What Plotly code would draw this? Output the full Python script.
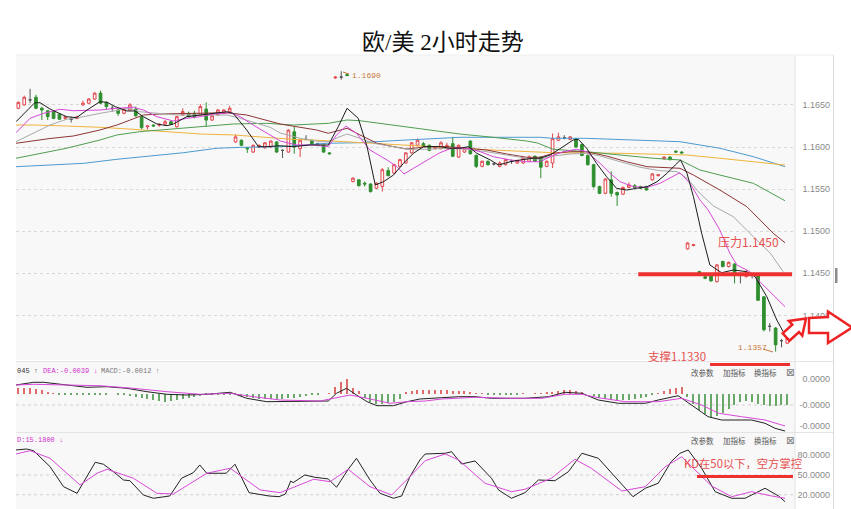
import plotly.graph_objects as go

W, H = 851, 509

# ---------------- candle data (index 0..131) ----------------
opens = [1.1646,1.1650,1.1656,1.1659,1.1646,1.1643,1.1642,1.1639,1.1634,1.1633,1.1634,1.1650,1.1652,1.1657,1.1664,1.1653,1.1646,1.1644,1.1640,1.1644,
         1.1645,1.1636,1.1624,1.1626,1.1626,1.1627,1.1630,1.1624,1.1638,1.1640,1.1640,1.1638,1.1645,1.1632,1.1638,1.1640,1.1642,1.1606,1.1608,1.1599,
         1.1594,1.1600,1.1599,1.1600,1.1606,1.1596,1.1594,1.1618,1.1598,1.1609,1.1608,1.1604,1.1602,1.1593,1.1682,1.1683,1.1686,1.1559,1.1561,1.1557,
         1.1556,1.1551,1.1553,1.1572,1.1569,1.1577,1.1581,1.1593,1.1602,1.1604,1.1602,1.1598,1.1598,1.1598,1.1604,1.1588,1.1594,1.1607,1.1590,1.1577,
         1.1583,1.1580,1.1577,1.1579,1.1583,1.1581,1.1581,1.1583,1.1589,1.1588,1.1577,1.1581,1.1608,1.1611,1.1609,1.1610,1.1603,1.1590,1.1579,1.1553,
         1.1545,1.1561,1.1546,1.1544,1.1552,1.1554,1.1553,1.1553,1.1561,1.1566,1.1586,1.1588,1.1595,1.1594,1.1479,1.1483,1.1452,1.1446,1.1447,1.1440,
         1.1464,1.1458,1.1461,1.1449,1.1446,1.1448,1.1447,1.1422,1.1387,1.1385,1.1370,1.1367]
highs = [1.1654,1.1661,1.1669,1.1662,1.1648,1.1644,1.1643,1.1640,1.1637,1.1636,1.1637,1.1655,1.1658,1.1665,1.1667,1.1654,1.1649,1.1645,1.1646,1.1652,
         1.1648,1.1638,1.1626,1.1627,1.1628,1.1632,1.1631,1.1637,1.1646,1.1642,1.1643,1.1651,1.1653,1.1638,1.1645,1.1645,1.1649,1.1615,1.1609,1.1600,
         1.1603,1.1603,1.1606,1.1608,1.1607,1.1597,1.1621,1.1624,1.1609,1.1614,1.1609,1.1605,1.1603,1.1594,1.1684,1.1690,1.1687,1.1564,1.1562,1.1559,
         1.1557,1.1558,1.1575,1.1576,1.1580,1.1586,1.1594,1.1606,1.1610,1.1606,1.1603,1.1601,1.1607,1.1605,1.1612,1.1603,1.1599,1.1608,1.1591,1.1584,
         1.1584,1.1581,1.1583,1.1586,1.1585,1.1585,1.1588,1.1590,1.1590,1.1589,1.1584,1.1616,1.1617,1.1614,1.1613,1.1611,1.1604,1.1591,1.1580,1.1554,
         1.1563,1.1571,1.1547,1.1553,1.1558,1.1556,1.1554,1.1554,1.1569,1.1568,1.1589,1.1589,1.1596,1.1595,1.1487,1.1485,1.1453,1.1447,1.1448,1.1461,
         1.1465,1.1464,1.1462,1.1451,1.1454,1.1450,1.1448,1.1423,1.1391,1.1386,1.1372,1.1374]
lows = [1.1645,1.1649,1.1652,1.1645,1.1632,1.1632,1.1633,1.1632,1.1632,1.1629,1.1633,1.1649,1.1651,1.1656,1.1651,1.1645,1.1642,1.1637,1.1639,1.1643,
        1.1636,1.1621,1.1621,1.1624,1.1624,1.1626,1.1626,1.1623,1.1637,1.1635,1.1634,1.1637,1.1624,1.1631,1.1637,1.1639,1.1641,1.1605,1.1601,1.1593,
        1.1593,1.1599,1.1598,1.1599,1.1593,1.1587,1.1593,1.1592,1.1588,1.1608,1.1603,1.1603,1.1593,1.1591,1.1681,1.1680,1.1684,1.1558,1.1553,1.1553,
        1.1546,1.1550,1.1547,1.1565,1.1568,1.1576,1.1580,1.1592,1.1601,1.1600,1.1595,1.1597,1.1597,1.1597,1.1588,1.1587,1.1593,1.1591,1.1575,1.1576,
        1.1578,1.1578,1.1576,1.1578,1.1580,1.1580,1.1580,1.1582,1.1582,1.1563,1.1576,1.1575,1.1607,1.1609,1.1608,1.1599,1.1589,1.1578,1.1551,1.1544,
        1.1544,1.1541,1.1530,1.1543,1.1551,1.1551,1.1550,1.1548,1.1560,1.1565,1.1585,1.1584,1.1593,1.1592,1.1478,1.1482,1.1448,1.1443,1.1440,1.1439,
        1.1457,1.1457,1.1438,1.1438,1.1445,1.1444,1.1417,1.1381,1.1381,1.1357,1.1362,1.1366]
closes = [1.1653,1.1659,1.1656,1.1646,1.1644,1.1636,1.1634,1.1633,1.1636,1.1633,1.1636,1.1652,1.1657,1.1664,1.1652,1.1648,1.1646,1.1640,1.1645,1.1650,
          1.1637,1.1623,1.1625,1.1625,1.1627,1.1630,1.1627,1.1636,1.1642,1.1636,1.1636,1.1648,1.1632,1.1637,1.1644,1.1644,1.1646,1.1612,1.1602,1.1598,
          1.1602,1.1602,1.1605,1.1607,1.1594,1.1596,1.1620,1.1600,1.1608,1.1609,1.1604,1.1604,1.1594,1.1592,1.1683,1.1683,1.1685,1.1563,1.1554,1.1556,
          1.1547,1.1557,1.1573,1.1566,1.1579,1.1585,1.1593,1.1605,1.1608,1.1601,1.1596,1.1600,1.1605,1.1602,1.1589,1.1602,1.1598,1.1592,1.1577,1.1583,
          1.1579,1.1580,1.1581,1.1585,1.1583,1.1584,1.1587,1.1588,1.1583,1.1576,1.1583,1.1610,1.1612,1.1611,1.1612,1.1600,1.1590,1.1579,1.1553,1.1545,
          1.1562,1.1545,1.1543,1.1552,1.1555,1.1552,1.1551,1.1549,1.1568,1.1567,1.1588,1.1585,1.1594,1.1593,1.1486,1.1484,1.1449,1.1444,1.1441,1.1460,
          1.1458,1.1463,1.1449,1.1449,1.1451,1.1448,1.1418,1.1383,1.1387,1.1365,1.1370,1.1373]

# ---------------- moving averages (bar index, price) ----------------
ma5_x = [-0.4,2.8,3.7,5.4,8.2,9.9,11.7,13.9,15.1,16.5,18.5,19.9,21.3,23.6,25.3,26.4,28.7,31.0,32.1,33.8,35.5,36.6,38.9,40.9,42.3,44.6,46.8,49.7,52.8,54.5,56.0,57.9,59.4,60.8,62.2,63.9,65.6,67.3,69.0,71.8,73.5,75.2,76.7,78.1,80.4,81.8,83.8,85.5,87.7,88.9,90.6,92.8,94.5,95.4,96.8,98.5,100.2,101.9,103.6,105.3,107.1,108.8,110.5,111.9,112.8,113.9,115.0,116.4,117.8,119.8,121.8,124.1,125.5,127.5,129.2,130.3]
ma5_y = [1.16300,1.16526,1.16526,1.16451,1.16360,1.16348,1.16439,1.16538,1.16531,1.16479,1.16428,1.16428,1.16360,1.16273,1.16253,1.16273,1.16360,1.16380,1.16392,1.16400,1.16419,1.16400,1.16202,1.16004,1.16004,1.16015,1.16004,1.16024,1.16024,1.16241,1.16460,1.16341,1.16004,1.15549,1.15588,1.15667,1.15806,1.15925,1.16004,1.16004,1.15985,1.15985,1.16004,1.15925,1.15846,1.15786,1.15825,1.15846,1.15866,1.15866,1.15905,1.16004,1.16083,1.16091,1.15985,1.15806,1.15647,1.15509,1.15489,1.15509,1.15528,1.15588,1.15688,1.15786,1.15846,1.15688,1.15410,1.14975,1.14599,1.14507,1.14539,1.14519,1.14460,1.14222,1.13945,1.13806]

ma10_x = [-0.4,2.0,4.3,7.1,9.4,11.7,13.9,16.8,19.6,21.3,23.6,26.4,28.7,31.0,33.2,36.1,37.8,40.0,42.3,44.6,47.4,50.2,52.8,54.2,55.8,57.6,59.9,62.8,64.5,65.7,67.3,69.6,71.8,73.8,76.4,78.7,80.9,83.8,86.6,88.9,90.6,92.8,95.1,96.8,99.1,100.8,102.5,104.8,107.1,109.3,111.3,112.7,114.4,116.1,117.5,119.5,121.2,122.4,124.6,126.9,128.6,130.6]
ma10_y = [1.16170,1.16341,1.16400,1.16448,1.16431,1.16431,1.16439,1.16460,1.16472,1.16439,1.16360,1.16309,1.16341,1.16360,1.16392,1.16407,1.16360,1.16261,1.16163,1.16071,1.16024,1.16024,1.16004,1.16143,1.16249,1.16163,1.15964,1.15846,1.15766,1.15679,1.15747,1.15846,1.15932,1.15985,1.15985,1.15944,1.15885,1.15846,1.15825,1.15825,1.15885,1.15944,1.15973,1.15944,1.15806,1.15688,1.15588,1.15528,1.15521,1.15569,1.15647,1.15695,1.15569,1.15371,1.15252,1.15014,1.14738,1.14599,1.14519,1.14361,1.14242,1.14103]

ma20_x = [-0.4,2.6,5.4,8.2,11.1,13.9,16.8,19.0,20.7,23.6,27.0,31.0,35.5,37.8,41.2,42.9,44.6,48.0,51.4,52.8,54.5,56.0,58.2,60.5,63.9,66.2,69.6,73.0,76.4,79.8,83.2,86.6,88.9,91.1,94.0,96.8,99.1,102.5,105.9,109.3,112.2,113.9,116.1,118.4,121.8,125.2,128.1,130.3]
ma20_y = [1.16063,1.16163,1.16261,1.16329,1.16360,1.16400,1.16439,1.16460,1.16419,1.16400,1.16380,1.16380,1.16380,1.16341,1.16273,1.16234,1.16166,1.16103,1.16063,1.16063,1.16115,1.16154,1.16103,1.16044,1.16004,1.15973,1.15973,1.15985,1.15973,1.15944,1.15905,1.15866,1.15854,1.15893,1.15917,1.15925,1.15893,1.15825,1.15759,1.15719,1.15707,1.15628,1.15450,1.15300,1.15172,1.14935,1.14738,1.14519]

ma30_x = [-0.4,2.6,5.4,9.4,11.7,13.9,16.8,19.6,21.3,24.1,31.0,35.5,38.9,42.3,44.6,48.0,50.8,52.8,54.8,56.0,58.2,61.1,63.9,66.2,69.6,73.0,76.4,79.8,83.2,86.6,88.9,91.1,94.0,96.8,100.2,103.6,107.1,110.5,112.7,115.0,119.5,124.1,126.3,128.6,130.6]
ma30_y = [1.16044,1.16075,1.16101,1.16131,1.16163,1.16202,1.16261,1.16341,1.16380,1.16392,1.16400,1.16407,1.16380,1.16321,1.16273,1.16234,1.16202,1.16163,1.16202,1.16222,1.16143,1.16044,1.16004,1.15976,1.16004,1.16004,1.15985,1.15964,1.15917,1.15878,1.15878,1.15925,1.15944,1.15944,1.15893,1.15825,1.15766,1.15759,1.15747,1.15667,1.15489,1.15291,1.15133,1.14975,1.14863]

ma60_x = [-0.4,2.6,8.2,13.9,16.8,20.7,25.3,31.0,36.6,42.3,46.8,52.8,56.0,58.2,63.9,69.6,75.2,80.9,86.6,88.4,91.1,96.8,102.5,108.2,112.7,116.1,119.5,125.2,130.6]
ma60_y = [1.15866,1.15905,1.15985,1.16083,1.16143,1.16182,1.16210,1.16241,1.16273,1.16281,1.16261,1.16281,1.16321,1.16312,1.16261,1.16202,1.16154,1.16115,1.16071,1.16048,1.15973,1.15944,1.15905,1.15866,1.15846,1.15727,1.15667,1.15569,1.15362]

ma120_x = [-0.4,2.6,8.2,13.9,19.6,25.3,31.0,36.6,42.3,46.8,52.5,58.2,63.9,69.6,75.2,80.9,86.6,91.1,102.5,108.2,113.9,119.5,125.2,130.6]
ma120_y = [1.16261,1.16261,1.16249,1.16234,1.16210,1.16182,1.16154,1.16143,1.16115,1.16091,1.16075,1.16051,1.16024,1.16004,1.15985,1.15964,1.15944,1.15932,1.15925,1.15917,1.15905,1.15866,1.15825,1.15786]

ma250_x = [-0.4,5.4,11.1,16.8,22.4,28.1,33.8,37.8,44.6,46.8,52.5,58.2,63.9,69.6,75.2,88.9,91.1,96.8,102.5,108.2,112.7,119.5,125.2,130.6]
ma250_y = [1.15766,1.15786,1.15806,1.15854,1.15893,1.15932,1.15985,1.15996,1.16004,1.16012,1.16044,1.16051,1.16075,1.16091,1.16115,1.16115,1.16103,1.16103,1.16091,1.16075,1.16063,1.15985,1.15885,1.15766]

# ---------------- MACD ----------------
dif_x = [-0.4,2.6,4.3,8.2,11.7,15.1,18.5,21.9,25.3,28.7,32.1,36.1,38.9,42.3,45.7,48.0,52.8,54.2,55.9,57.6,59.4,61.1,63.9,66.2,68.4,72.1,75.0,77.8,80.6,86.3,90.3,93.1,96.0,98.8,102.2,106.8,109.0,112.4,114.7,117.5,119.8,124.9,127.2,128.9,130.6]
dif_y = [0.00087,0.00114,0.00114,0.00087,0.00064,0.00070,0.00054,0.00020,-0.00006,-0.00013,-0.00006,0.00014,-0.00046,-0.00080,-0.00080,-0.00073,-0.00073,0.00004,0.00054,-0.00013,-0.00080,-0.00120,-0.00120,-0.00080,-0.00053,-0.00040,-0.00030,-0.00030,-0.00046,-0.00046,-0.00030,0.00014,0.00004,-0.00063,-0.00096,-0.00096,-0.00063,-0.00020,-0.00113,-0.00230,-0.00263,-0.00263,-0.00296,-0.00346,-0.00373]
dea_x = [-0.4,2.6,8.2,13.9,19.6,25.3,31.0,36.1,40.0,44.6,51.4,54.2,56.5,59.4,63.3,66.2,69.3,72.1,77.8,83.5,89.2,93.1,96.0,98.8,103.4,109.0,113.0,116.4,119.3,123.2,127.2,130.6]
dea_y = [0.00087,0.00094,0.00087,0.00080,0.00054,0.00020,-0.00006,0.00004,-0.00030,-0.00063,-0.00073,-0.00040,-0.00013,-0.00046,-0.00096,-0.00080,-0.00073,-0.00053,-0.00036,-0.00046,-0.00046,-0.00006,-0.00006,-0.00040,-0.00080,-0.00080,-0.00046,-0.00113,-0.00196,-0.00230,-0.00263,-0.00323]
macd_hist = [0.0006,0.0006,0.0006,0.0005,0.0004,0.00015,0.00005,-0.00005,-0.00005,-0.00005,-0.0001,-0.00015,-0.0001,-0.00015,-0.00005,-0.00005,0.0,-0.0001,-0.00015,-0.00025,
             -0.0003,-0.0004,-0.0005,-0.0006,-0.0007,-0.0008,-0.0007,-0.0006,-0.0005,-0.0004,-0.0003,-0.0002,-0.0001,-0.00005,-0.00005,-0.00005,-0.00005,0.00005,-0.0002,-0.0003,
             -0.0004,-0.0005,-0.00055,-0.00055,-0.0005,-0.0005,-0.00045,-0.0004,-0.0003,-0.0002,-0.0001,-0.00005,0.0,0.00005,0.0007,0.0012,0.00145,0.0006,0.0003,-0.0004,
             -0.0008,-0.001,-0.001,-0.0009,-0.0008,-0.0005,0.0001,0.0003,0.0004,0.0004,0.0004,0.0004,0.0004,0.0004,0.0003,0.0003,0.00025,0.0001,0.00005,0.00005,
             -0.00005,-0.0001,-0.0001,-0.0001,-0.0001,-0.00005,0.00005,0.0,0.00005,0.00005,0.0001,0.0002,0.0003,0.0004,0.0004,0.0003,0.0002,0.0,-0.0002,-0.0004,
             -0.0005,-0.0006,-0.0006,-0.0006,-0.0006,-0.0005,-0.0004,-0.0003,-0.0001,0.00005,0.0003,0.0005,0.0006,0.0007,-0.0003,-0.001,-0.0016,-0.002,-0.0023,-0.0022,
             -0.0019,-0.0015,-0.0011,-0.0008,-0.0007,-0.0008,-0.001,-0.0011,-0.0012,-0.0012,-0.0011,-0.0011]

# ---------------- KD ----------------
k_x = [-0.4,1.4,2.6,5.4,7.7,10.0,13.1,14.5,16.2,17.9,19.0,21.3,23.0,25.8,27.8,29.8,30.9,32.1,35.4,36.9,39.3,42.7,44.4,45.5,46.4,46.8,48.8,50.5,52.8,54.2,56.2,57.6,59.9,61.6,63.9,65.3,66.7,68.4,69.3,72.7,73.8,75.5,77.8,80.6,81.8,84.0,86.3,88.6,91.4,93.7,96.0,98.8,104.7,106.8,109.0,111.2,112.7,114.1,116.4,118.7,121.5,123.8,127.2,129.5,130.6]
k_y = [88.0,89.5,86.9,62.6,32.2,22.2,69.3,66.3,55.0,42.4,41.3,19.6,14.6,18.1,45.0,53.5,65.2,52.6,52.6,66.3,23.1,18.1,17.0,21.1,40.9,38.3,50.0,46.5,44.0,31.3,58.7,75.4,42.4,22.2,14.6,18.1,47.4,72.8,81.9,83.0,85.4,66.7,71.3,45.0,27.2,14.6,23.1,42.4,41.3,55.0,83.0,75.4,17.0,29.8,37.4,70.2,83.0,88.0,60.2,24.6,14.6,14.6,29.8,18.1,9.4]
d_x = [-0.4,2.0,5.4,10.5,13.4,15.1,19.6,23.6,26.4,32.1,36.1,41.2,44.6,50.3,53.1,56.2,59.9,63.6,66.7,69.3,72.7,75.0,79.5,84.0,86.3,90.8,94.8,97.6,102.8,106.8,110.2,113.0,114.7,118.1,121.5,124.9,128.3,130.6]
d_y = [81.9,86.9,75.4,34.8,52.6,58.7,45.0,22.2,21.1,52.6,60.2,27.2,23.1,43.5,39.8,58.7,32.2,19.6,47.4,71.7,81.9,72.8,37.4,24.6,28.3,45.0,73.9,60.2,25.7,32.2,62.6,77.8,62.6,33.3,17.0,24.6,18.1,14.6]

main_ticks = [1.1400, 1.1450, 1.1500, 1.1550, 1.1600, 1.1650]
main_ticktext = ["1.1400", "1.1450", "1.1500", "1.1550", "1.1600", "1.1650"]
macd_ticks = [0.00147, -0.00113, -0.00323]
macd_ticktext = ["0.0000", "-0.0000", "-0.0000"]
kd_ticks = [20, 50, 80]
kd_ticktext = ["20.0000", "50.0000", "80.0000"]

idx = list(range(len(opens)))

def px(x):
    return x / W

def py(y):
    return 1 - y / H

RED = "#e2474d"
GREEN = "#2f8f2f"
XRANGE = [-0.4, 132.3]
XDOM = [px(16), px(795)]

fig = go.Figure()

# candles: up (hollow red), down (green), flat (grey)
up = [i for i in idx if closes[i] > opens[i]]
dn = [i for i in idx if closes[i] < opens[i]]
fl = [i for i in idx if closes[i] == opens[i]]
for sel, col, fill in [(up, RED, "#fafafa"), (dn, GREEN, GREEN), (fl, "#555555", "#555555")]:
    fig.add_trace(go.Candlestick(
        x=sel, open=[opens[i] for i in sel], high=[highs[i] for i in sel],
        low=[lows[i] for i in sel], close=[closes[i] for i in sel],
        increasing=dict(line=dict(color=col, width=1), fillcolor=fill),
        decreasing=dict(line=dict(color=col, width=1), fillcolor=fill),
        whiskerwidth=0, showlegend=False, xaxis="x", yaxis="y"))

for xs, ys, col in [(ma250_x, ma250_y, "#4b9bd1"), (ma120_x, ma120_y, "#f0b43a"),
                    (ma60_x, ma60_y, "#4e9e50"), (ma30_x, ma30_y, "#8e3434"),
                    (ma20_x, ma20_y, "#a9a9a9"), (ma10_x, ma10_y, "#d848d8"),
                    (ma5_x, ma5_y, "#1c1c1c")]:
    fig.add_trace(go.Scatter(x=xs, y=ys, mode="lines", line=dict(color=col, width=1),
                             showlegend=False, hoverinfo="skip", xaxis="x", yaxis="y"))

# MACD
fig.add_trace(go.Bar(x=idx, y=macd_hist, width=0.2,
                     marker=dict(color=["#e06a6a" if v > 0 else "#6aa86a" for v in macd_hist], line=dict(width=0)),
                     showlegend=False, xaxis="x2", yaxis="y2"))
fig.add_trace(go.Scatter(x=dif_x, y=dif_y, mode="lines", line=dict(color="#222222", width=1),
                         showlegend=False, xaxis="x2", yaxis="y2"))
fig.add_trace(go.Scatter(x=dea_x, y=dea_y, mode="lines", line=dict(color="#d848d8", width=1),
                         showlegend=False, xaxis="x2", yaxis="y2"))

# KD
fig.add_trace(go.Scatter(x=k_x, y=k_y, mode="lines", line=dict(color="#222222", width=1),
                         showlegend=False, xaxis="x3", yaxis="y3"))
fig.add_trace(go.Scatter(x=d_x, y=d_y, mode="lines", line=dict(color="#d848d8", width=1),
                         showlegend=False, xaxis="x3", yaxis="y3"))

axfont = dict(family="Liberation Sans, Arial, sans-serif", size=9, color="#8a8a8a")
common_x = dict(domain=XDOM, range=XRANGE, showticklabels=False, showgrid=False,
                zeroline=False, showline=False, ticks="", fixedrange=True)
common_y = dict(side="right", anchor="free", position=px(833), ticklabelposition="inside",
                ticks="", showline=False, zeroline=False, tickfont=axfont, fixedrange=True)

fig.update_layout(
    width=W, height=H, margin=dict(l=0, r=0, t=0, b=0),
    paper_bgcolor="white", plot_bgcolor="#f8f8f8",
    boxgap=0.35, bargap=0, showlegend=False,
    font=dict(family="Noto Sans CJK SC, sans-serif"),
    xaxis=dict(common_x, anchor="y", rangeslider=dict(visible=False)),
    xaxis2=dict(common_x, anchor="y2", matches="x"),
    xaxis3=dict(common_x, anchor="y3", matches="x"),
    yaxis=dict(common_y, domain=[py(360), py(55)], range=[1.134703, 1.170926],
               tickvals=main_ticks, ticktext=main_ticktext,
               showgrid=True, gridcolor="#d9d9d9", griddash="dot", gridwidth=1),
    yaxis2=dict(common_y, domain=[py(432), py(362)], range=[-0.00383, 0.00317],
                tickvals=macd_ticks, ticktext=macd_ticktext, showgrid=False),
    yaxis3=dict(common_y, domain=[0, py(433)], range=[-1.7, 113.8],
                tickvals=kd_ticks, ticktext=kd_ticktext, showgrid=False),
)

shapes = []
# panel frame lines
shapes.append(dict(type="line", xref="paper", yref="paper", x0=px(795), x1=px(795), y0=0, y1=py(55),
                   line=dict(color="#e2e2e2", width=1)))
shapes.append(dict(type="line", xref="paper", yref="paper", x0=px(833.5), x1=px(833.5), y0=0, y1=py(55),
                   line=dict(color="#dcdcdc", width=1)))
shapes.append(dict(type="line", xref="paper", yref="paper", x0=px(16), x1=px(833), y0=py(55), y1=py(55),
                   line=dict(color="#eeeeee", width=1)))
shapes.append(dict(type="line", xref="paper", yref="paper", x0=px(16), x1=px(833), y0=py(361.5), y1=py(361.5),
                   line=dict(color="#e4e4e4", width=1)))
shapes.append(dict(type="line", xref="paper", yref="paper", x0=px(16), x1=px(833), y0=py(432.5), y1=py(432.5),
                   line=dict(color="#e4e4e4", width=1)))
shapes.append(dict(type="rect", xref="paper", yref="paper", x0=px(835), x1=px(837.5), y0=py(283), y1=py(268),
                   fillcolor="#8a8a8a", line=dict(width=0)))
# sub-panel dotted grid
shapes.append(dict(type="line", xref="paper", yref="y2", x0=XDOM[0], x1=XDOM[1], y0=-0.00113, y1=-0.00113,
                   line=dict(color="#d0d0d0", width=1, dash="dot"), layer="below"))
for v in [50, 20]:
    shapes.append(dict(type="line", xref="paper", yref="y3", x0=XDOM[0], x1=XDOM[1], y0=v, y1=v,
                       line=dict(color="#d0d0d0", width=1, dash="dot"), layer="below"))
# analyst marks
shapes.append(dict(type="line", xref="x", yref="y", x0=105.6, x1=131.8, y0=1.1449, y1=1.1449,
                   line=dict(color="#ee3030", width=4)))
shapes.append(dict(type="line", xref="paper", yref="paper", x0=px(710), x1=px(790), y0=py(364.5), y1=py(364.5),
                   line=dict(color="#ee3030", width=3)))
shapes.append(dict(type="line", xref="paper", yref="paper", x0=px(697), x1=px(793), y0=py(476.5), y1=py(476.5),
                   line=dict(color="#ee3030", width=3)))
shapes.append(dict(type="line", xref="paper", yref="paper", x0=px(763), x1=px(773), y0=py(349), y1=py(352),
                   line=dict(color="#c8783c", width=1)))
shapes.append(dict(type="line", xref="paper", yref="paper", x0=px(343), x1=px(349), y0=py(72), y1=py(74),
                   line=dict(color="#c8783c", width=1)))


def poly(points):
    s = "M " + " L ".join(f"{px(a):.5f},{py(b):.5f}" for a, b in points) + " Z"
    return s

arrow1 = [(789.4, 340.7), (799.0, 332.0), (802.3, 335.7), (806.0, 318.5), (788.9, 320.9), (792.3, 324.6), (782.7, 333.3)]
arrow2 = [(809, 318), (828, 317), (828, 311.5), (852, 327.5), (828, 343), (828, 333), (809, 333)]
for pts in (arrow1, arrow2):
    shapes.append(dict(type="path", xref="paper", yref="paper", path=poly(pts),
                       fillcolor="white", line=dict(color="#ee2222", width=2.5)))
fig.update_layout(shapes=shapes)

ann = []
def text(x, y, s, size, color, family="Noto Sans CJK SC, sans-serif", xanchor="left"):
    ann.append(dict(xref="paper", yref="paper", x=px(x), y=py(y), text=s, showarrow=False,
                    xanchor=xanchor, yanchor="middle", font=dict(size=size, color=color, family=family)))

text(443, 43, "欧/美 2小时走势", 23, "#111111", family="Liberation Serif, Noto Sans CJK SC, serif", xanchor="center")
text(716, 241, "压力1.1450", 12, "#e65050")
text(646, 356, "支撑1.1330", 11.5, "#e65050")
text(682, 463, "KD在50以下，空方掌控", 11.3, "#e65050")
text(736, 347, "1.1357", 8, "#c8783c", family="Liberation Mono, monospace")
text(350, 76, "1.1690", 8, "#c8783c", family="Liberation Mono, monospace")
mono = "Liberation Mono, monospace"
text(15, 371, "045 ↑", 7, "#333333", family=mono)
text(41, 371, "DEA:-0.0039 ↓", 7, "#d030d0", family=mono)
text(99, 371, "MACD:-0.0012 ↑", 7, "#777777", family=mono)
text(15, 440, "D:15.1800 ↓", 7, "#d030d0", family=mono)
for yy in (372, 440):
    text(689, yy, "改参数", 7.5, "#555555")
    text(721, yy, "加指标", 7.5, "#555555")
    text(752, yy, "换指标", 7.5, "#555555")
    text(784, yy, "⊠", 10, "#777777", family="DejaVu Sans, sans-serif")
fig.update_layout(annotations=ann)

fig.write_html("out.html", config={"displayModeBar": False},
               post_script="document.body.style.margin='0px';document.body.style.overflow='hidden';")
